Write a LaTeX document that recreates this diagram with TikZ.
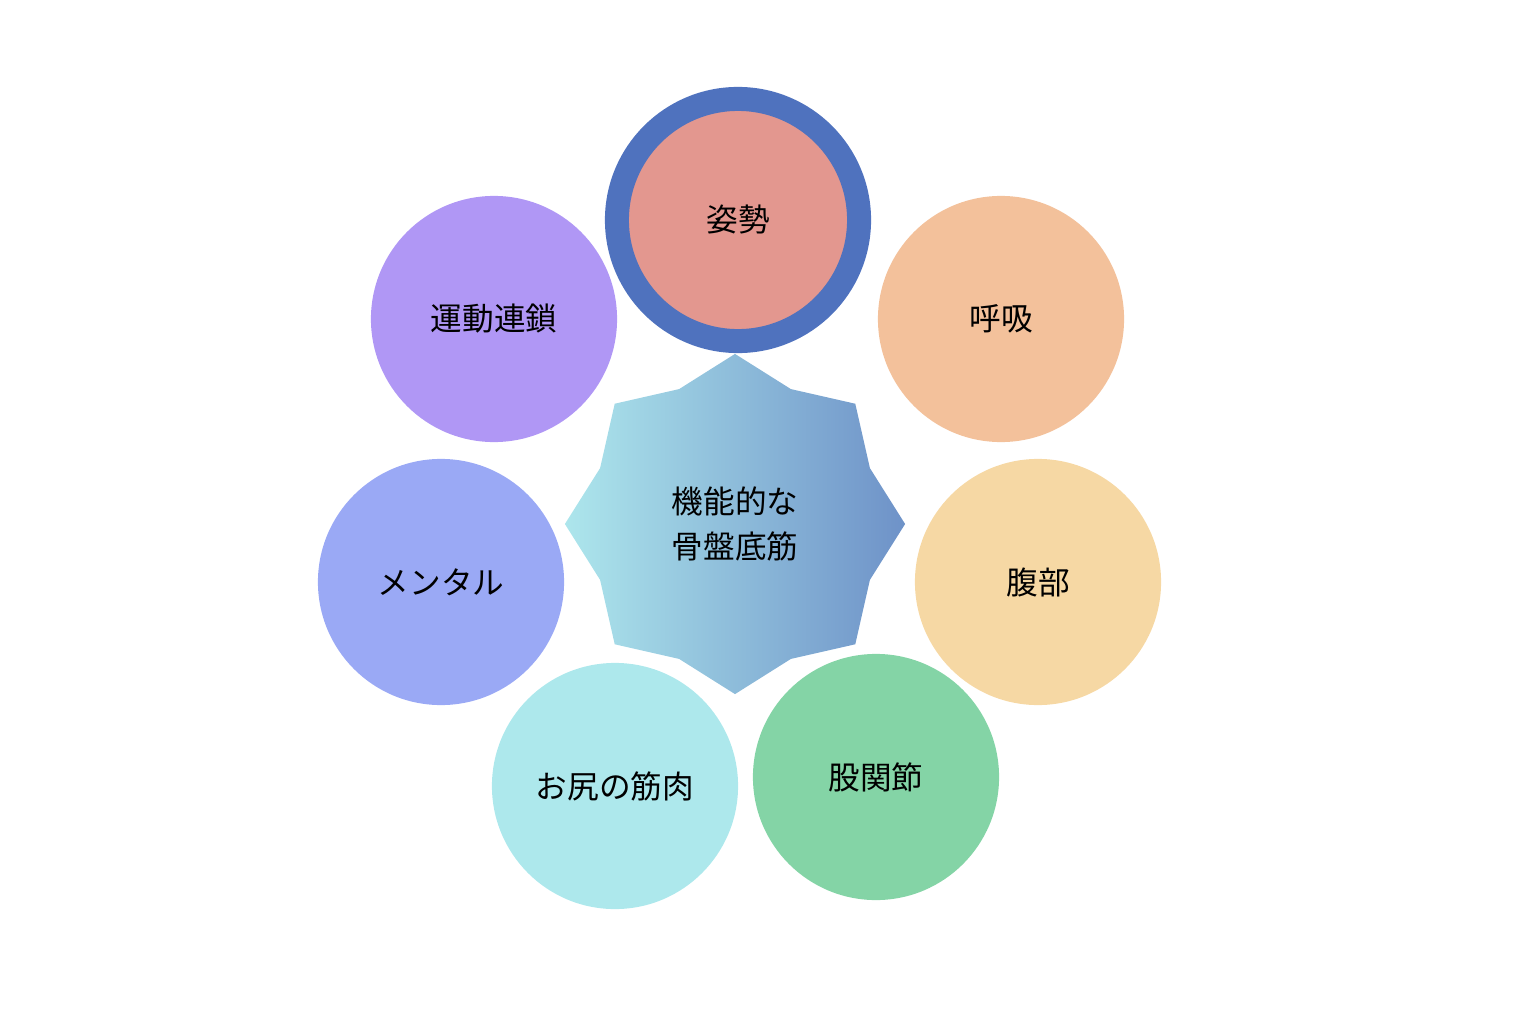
\documentclass[tikz,border=0pt]{standalone}
\usepackage{fontspec}
\setmainfont{Noto Sans CJK JP}
\usetikzlibrary{shapes.geometric}
\definecolor{ringblue}{HTML}{4F72BE}
\definecolor{posture}{HTML}{E3978F}
\definecolor{breath}{HTML}{F3C19B}
\definecolor{chain}{HTML}{B097F5}
\definecolor{mental}{HTML}{9AA9F5}
\definecolor{belly}{HTML}{F6D8A4}
\definecolor{hip}{HTML}{84D4A6}
\definecolor{glute}{HTML}{ADE8EC}
\definecolor{starleft}{HTML}{ADE6EC}
\definecolor{starright}{HTML}{6E92C8}
\tikzset{
  label font/.style={font=\fontsize{9}{12.8}\selectfont, text=black},
  ball/.style={circle, minimum size=2.46cm, inner sep=0pt, label font},
}
\begin{document}
\begin{tikzpicture}[x=0.01cm,y=-0.01cm]
      \useasboundingbox (0,0) rectangle (1530,1024);
      \draw
        (738,220) node[ball, fill=posture, draw=ringblue, line width=0.24cm, minimum size=2.42cm] (1){姿勢}
        (1001,319) node[ball, fill=breath] (2){呼吸}
        (1038,582) node[ball, fill=belly] (3){腹部}
        (876,777) node[ball, fill=hip] (4){股関節}
        (615,786) node[ball, fill=glute] (5){お尻の筋肉}
        (441,582) node[ball, fill=mental] (6){メンタル}
        (494,319) node[ball, fill=chain] (7){運動連鎖};
      \node[star, star points=8, star point ratio=1.165, minimum size=3.4cm,
        inner sep=0pt, left color=starleft, right color=starright,
        align=center, label font] (0) at (735,524) {機能的な\\骨盤底筋};
    \end{tikzpicture}
\end{document}
